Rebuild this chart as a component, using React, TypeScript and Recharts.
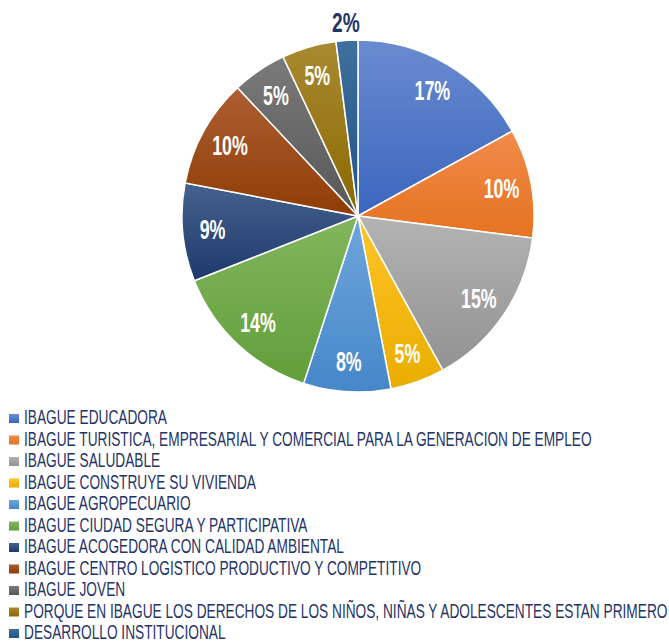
import { PieChart, Pie, Cell, Legend } from "recharts";

const categories = [
  "IBAGUE EDUCADORA",
  "IBAGUE TURISTICA, EMPRESARIAL Y COMERCIAL PARA LA GENERACION DE EMPLEO",
  "IBAGUE SALUDABLE",
  "IBAGUE CONSTRUYE SU VIVIENDA",
  "IBAGUE AGROPECUARIO",
  "IBAGUE CIUDAD SEGURA Y PARTICIPATIVA",
  "IBAGUE ACOGEDORA CON CALIDAD AMBIENTAL",
  "IBAGUE CENTRO LOGISTICO PRODUCTIVO Y COMPETITIVO",
  "IBAGUE JOVEN",
  "PORQUE EN IBAGUE LOS DERECHOS DE LOS NIÑOS, NIÑAS Y ADOLESCENTES ESTAN PRIMERO",
  "DESARROLLO INSTITUCIONAL",
];

const shares = [17, 10, 15, 5, 8, 14, 9, 10, 5, 5, 2];

// [top, bottom] of each slice gradient
const colors = [
  ["#6a8bd0", "#3a66be"],
  ["#f08a4c", "#e6731f"],
  ["#b3b3b3", "#929292"],
  ["#ffc42a", "#e9ad00"],
  ["#6ea6dc", "#4687c8"],
  ["#82b65e", "#629e3a"],
  ["#44618f", "#1e3a6c"],
  ["#ad5f33", "#8f3d05"],
  ["#7a7a7a", "#575757"],
  ["#a88a32", "#8a6800"],
  ["#3f6f9c", "#1f5585"],
];

const navy = "#1f3468";
const font = "'Liberation Sans', Arial, sans-serif";

const data = categories.map((name, i) => ({ name, value: shares[i] }));

const RAD = Math.PI / 180;

const renderLabel = (props: any) => {
  const { cx, cy, midAngle, outerRadius, value, index } = props;
  const outside = index === shares.length - 1;
  const r = outside ? outerRadius + 18 : outerRadius * 0.83;
  const x = cx + r * Math.cos(-midAngle * RAD);
  const y = cy + r * Math.sin(-midAngle * RAD);
  return (
    <text
      transform={`translate(${x},${y}) scale(${outside ? 0.71 : 0.66},1)`}
      x={0}
      y={0}
      textAnchor="middle"
      dominantBaseline="central"
      fill={outside ? navy : "#ffffff"}
      fontFamily={font}
      fontWeight={700}
      fontSize={27}>
      {value}%
    </text>
  );
};

const renderLegend = () => (
  <svg width={669} height={243} style={{ overflow: "visible" }}>
    {categories.map((name, i) => (
      <g key={name} transform={`translate(0,${i * 21.5})`}>
        <rect x={9} y={14} width={10} height={9} fill={`url(#grad${i})`} />
        <text
          transform="translate(24,24) scale(0.685,1)"
          x={0}
          y={0}
          fill={navy}
          fontFamily={font}
          fontSize={20}>
          {name}
        </text>
      </g>
    ))}
  </svg>
);

export default function App() {
  return (
    <div style={{ position: "absolute", left: 0, top: 0, background: "#fff" }}>
      <svg width={0} height={0} style={{ position: "absolute" }}>
        <defs>
          {colors.map(([top, bottom], i) => (
            <linearGradient key={i} id={`grad${i}`} x1="0" y1="0" x2="0" y2="1">
              <stop offset="0%" stopColor={top} />
              <stop offset="100%" stopColor={bottom} />
            </linearGradient>
          ))}
        </defs>
      </svg>
      <PieChart width={669} height={643} margin={{ top: 0, right: 0, bottom: 0, left: 0 }}>
        <Pie
          data={data}
          dataKey="value"
          nameKey="name"
          cx={358}
          cy={216}
          outerRadius={176}
          startAngle={90}
          endAngle={-270}
          stroke="#ffffff"
          strokeWidth={1.5}
          label={renderLabel}
          labelLine={false}
          isAnimationActive={false}>
          {data.map((d, i) => (
            <Cell key={d.name} fill={`url(#grad${i})`} />
          ))}
        </Pie>
        <Legend
          content={renderLegend}
          wrapperStyle={{ left: 0, top: 400, width: 669 }}
        />
      </PieChart>
    </div>
  );
}
